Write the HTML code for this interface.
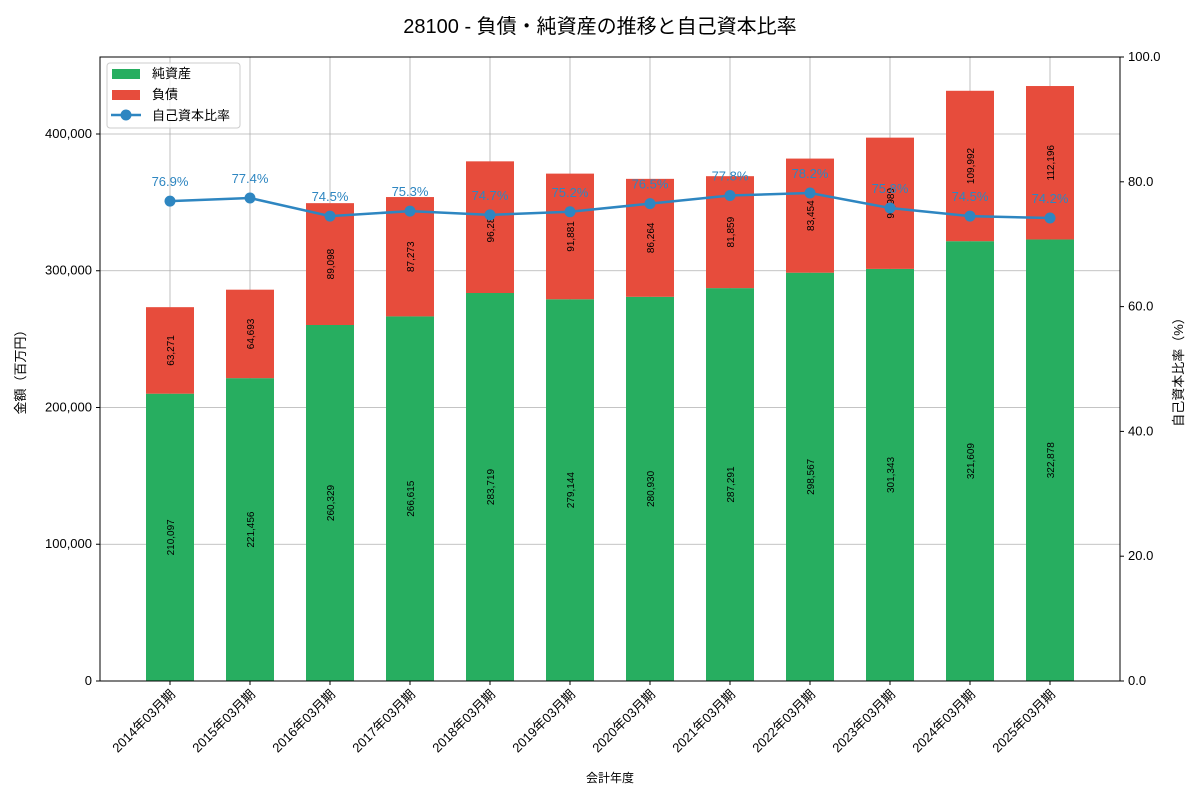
<!DOCTYPE html>
<html><head><meta charset="utf-8">
<style>
body{margin:0;background:#fff;font-family:"Liberation Sans","Noto Sans CJK JP",sans-serif;}
svg text{font-family:"Liberation Sans","Noto Sans CJK JP",sans-serif;}
</style></head>
<body>
<svg id="chart" width="1200" height="800" xmlns="http://www.w3.org/2000/svg">
<text x="600" y="33" text-anchor="middle" font-size="20" fill="#000">28100 - 負債・純資産の推移と自己資本比率</text>
<g id="grid"></g>
<g id="bars"></g>
<g id="line"></g>
<g id="axes"></g>
<g>
<rect x="107" y="63" width="133" height="65" fill="#fff" fill-opacity="0.8" stroke="#ccc" rx="3"/>
<rect x="112" y="69" width="28" height="10" fill="#27ae60"/>
<text x="152" y="78" font-size="13">純資産</text>
<rect x="112" y="90" width="28" height="10" fill="#e74c3c"/>
<text x="152" y="99" font-size="13">負債</text>
<line x1="111" y1="115" x2="141" y2="115" stroke="#2e86c1" stroke-width="2.5"/>
<circle cx="126" cy="115" r="5.5" fill="#2e86c1"/>
<text x="152" y="120" font-size="13">自己資本比率</text>
</g>
</svg>
<script>
const categories=["2014年03月期","2015年03月期","2016年03月期","2017年03月期","2018年03月期","2019年03月期","2020年03月期","2021年03月期","2022年03月期","2023年03月期","2024年03月期","2025年03月期"];
const equity=[210097,221456,260329,266615,283719,279144,280930,287291,298567,301343,321609,322878];
const liabilities=[63271,64693,89098,87273,96281,91881,86264,81859,83454,95989,109992,112196];
const ratio=[76.9,77.4,74.5,75.3,74.7,75.2,76.5,77.8,78.2,75.8,74.5,74.2];
const yTicks=[0,100000,200000,300000,400000];
const y2Ticks=[0,20,40,60,80,100];
const NS="http://www.w3.org/2000/svg";
const L=100,R=1120,T=57,B=681,yMax=456300;
const xs=i=>L+(i+0.875)*80;
const ys=v=>B-v/yMax*(B-T);
const y2=v=>B-v/100*(B-T);
function mk(p,tag,a,txt){const e=document.createElementNS(NS,tag);for(const k in a)e.setAttribute(k,a[k]);if(txt!==undefined)e.textContent=txt;p.appendChild(e);return e;}
const g=document.getElementById('grid'),bg=document.getElementById('bars'),lg=document.getElementById('line'),ax=document.getElementById('axes');
yTicks.forEach(t=>{const e=mk(g,'line',{x1:L,x2:R,y1:ys(t),y2:ys(t),stroke:'#b0b0b0','stroke-width':0.8});


const tx=mk(ax,'text',{x:L-8,y:ys(t)+4,'text-anchor':'end','font-size':13},t.toLocaleString('en-US'));


mk(ax,'line',{x1:L-4,x2:L,y1:ys(t),y2:ys(t),stroke:'#000'});});
y2Ticks.forEach(t=>{mk(ax,'line',{x1:R,x2:R+4,y1:y2(t),y2:y2(t),stroke:'#000'});
const tx=mk(ax,'text',{x:R+8,y:y2(t)+4,'font-size':13},t.toFixed(1));

});
categories.forEach((c,i)=>{const x=xs(i);
const gl=mk(g,'line',{x1:x,x2:x,y1:T,y2:B,stroke:'#b0b0b0','stroke-width':0.8});


const e=equity[i],l=liabilities[i];
const r1=mk(bg,'rect',{x:x-24,width:48,y:ys(e),height:B-ys(e),fill:'#27ae60'});


const r2=mk(bg,'rect',{x:x-24,width:48,y:ys(e+l),height:ys(e)-ys(e+l),fill:'#e74c3c'});


const cy1=(B+ys(e))/2,cy2=(ys(e)+ys(e+l))/2;
const t1=mk(bg,'text',{x:x+4,y:cy1,'text-anchor':'middle','font-size':10,transform:`rotate(-90 ${x+4} ${cy1})`},e.toLocaleString('en-US'));


const t2=mk(bg,'text',{x:x+4,y:cy2,'text-anchor':'middle','font-size':10,transform:`rotate(-90 ${x+4} ${cy2})`},l.toLocaleString('en-US'));


mk(ax,'line',{x1:x,x2:x,y1:B,y2:B+4,stroke:'#000'});
const xl=mk(ax,'text',{x:x+6,y:B+14,'text-anchor':'end','font-size':13,transform:`rotate(-45 ${x+6} ${B+14})`},c);

});
const pl=mk(lg,'polyline',{points:ratio.map((r,i)=>xs(i)+','+y2(r)).join(' '),fill:'none',stroke:'#2e86c1','stroke-width':2.5});


ratio.forEach((r,i)=>{const c=mk(lg,'circle',{cx:xs(i),cy:y2(r),r:5.5,fill:'#2e86c1'});


const t=mk(lg,'text',{x:xs(i),y:y2(r)-15,'text-anchor':'middle','font-size':13,fill:'#2e86c1'},r.toFixed(1)+'%');

});
mk(ax,'rect',{x:L,y:T,width:R-L,height:B-T,fill:'none',stroke:'#000','stroke-width':1});
const a1=mk(ax,'text',{x:25,y:369,'text-anchor':'middle','font-size':13,transform:'rotate(-90 25 369)'},'金額（百万円）');


const a2=mk(ax,'text',{x:1183,y:369,'text-anchor':'middle','font-size':13,transform:'rotate(-90 1183 369)'},'自己資本比率（%）');


const a3=mk(ax,'text',{x:610,y:782,'text-anchor':'middle','font-size':12},'会計年度');


</script>
</body></html>
